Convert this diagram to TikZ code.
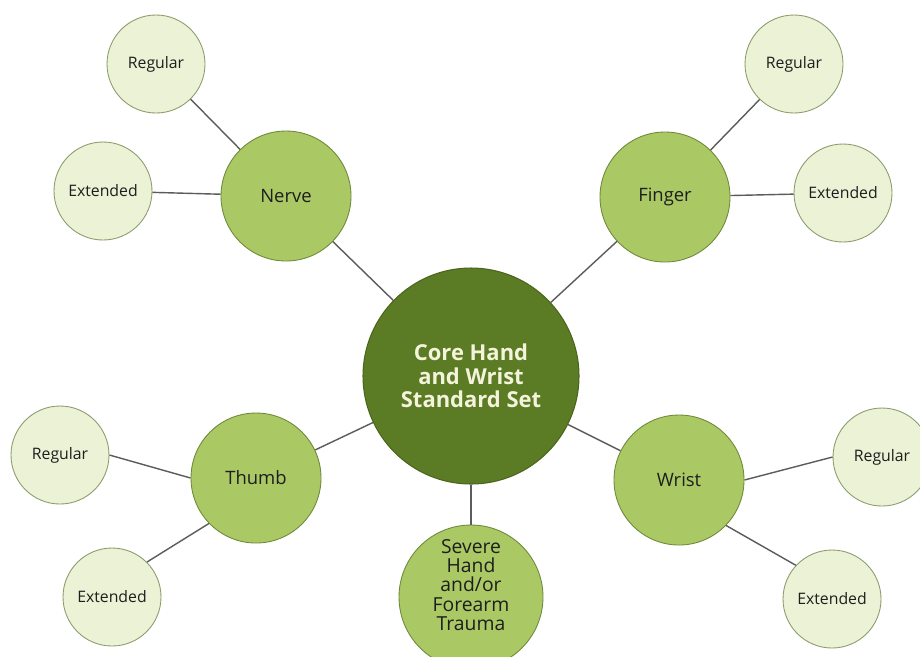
\documentclass[tikz,border=0pt]{standalone}
\usepackage{fontspec}
\setmainfont{Open Sans}
\definecolor{corefill}{HTML}{5B7B24}
\definecolor{coreline}{HTML}{4B661B}
\definecolor{coretext}{HTML}{F4F4DC}
\definecolor{topicfill}{HTML}{AAC965}
\definecolor{topicline}{HTML}{6E8A3A}
\definecolor{levelfill}{HTML}{EBF2D6}
\definecolor{levelline}{HTML}{8C9C6C}
\definecolor{linkgray}{HTML}{5C5C5C}
\definecolor{inktext}{HTML}{1E1E1E}
\tikzset{
	core/.style={circle, draw=coreline, fill=corefill, line width=0.6pt, minimum size=4.32cm, inner sep=0pt, align=center, text=coretext, font=\fontsize{12.5}{13.5}\selectfont\bfseries},
	topic/.style={circle, draw=topicline, fill=topicfill, line width=0.5pt, minimum size=2.6cm, inner sep=0pt, align=center, text=inktext, font=\fontsize{10.5}{11.3}\selectfont},
	topictext/.style={inner sep=0pt, align=center, text=inktext, font=\fontsize{11}{10.9}\selectfont},
	level/.style={circle, draw=levelline, fill=levelfill, line width=0.5pt, minimum size=1.96cm, inner sep=0pt, text=inktext, font=\fontsize{9}{10}\selectfont},
	link/.style={draw=linkgray, line width=0.8pt}
}
\begin{document}
\begin{tikzpicture}
		\useasboundingbox (0,0) rectangle (18.4,-13.12);
		\clip (0,0) rectangle (18.4,-13.12);
		\fill[white] (0,0) rectangle (18.4,-13.12);

		% centre and the five topics
		\node[core] (core) at (9.42,-7.52) {Core Hand\\and Wrist\\Standard Set};
		\node[topic] (nerve) at (5.72,-3.92) {Nerve};
		\node[topic] (finger) at (13.30,-3.94) {Finger};
		\node[topic] (thumb) at (5.12,-9.56) {Thumb};
		\node[topic] (wrist) at (13.58,-9.60) {Wrist};
		\node[topic, minimum size=2.88cm,
			label={[topictext, yshift=0.24cm]center:Severe\\Hand\\and/or\\Forearm\\Trauma}] (severe) at (9.42,-11.94) {};

		% regular and extended sets
		\node[level] (nerveReg) at (3.12,-1.28) {Regular};
		\node[level] (nerveExt) at (2.06,-3.82) {Extended};
		\node[level] (fingerReg) at (15.88,-1.28) {Regular};
		\node[level] (fingerExt) at (16.86,-3.86) {Extended};
		\node[level] (thumbReg) at (1.20,-9.10) {Regular};
		\node[level] (thumbExt) at (2.24,-11.94) {Extended};
		\node[level] (wristReg) at (17.64,-9.14) {Regular};
		\node[level] (wristExt) at (16.64,-11.98) {Extended};

		\foreach \t in {nerve,finger,thumb,wrist,severe}
		{
			\draw[link] (core) -- (\t);
		}
		\draw[link] (nerve) -- (nerveReg);
		\draw[link] (nerve) -- (nerveExt);
		\draw[link] (finger) -- (fingerReg);
		\draw[link] (finger) -- (fingerExt);
		\draw[link] (thumb.west) -- (thumbReg.east);
		\draw[link] (thumb.224) -- (thumbExt.45);
		\draw[link] (wrist.east) -- (wristReg.west);
		\draw[link] (wrist.-44) -- (wristExt.137);
	\end{tikzpicture}
\end{document}
